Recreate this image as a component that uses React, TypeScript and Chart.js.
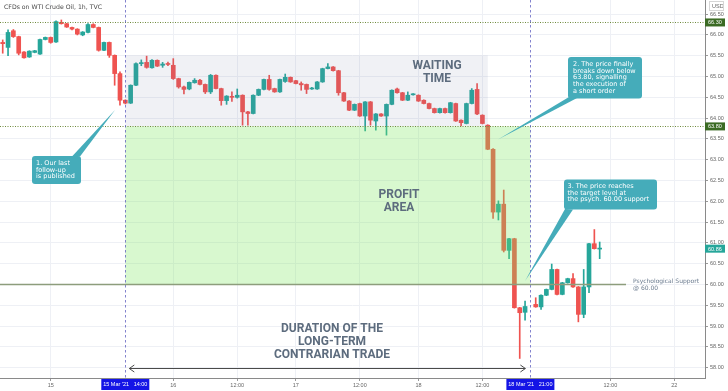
import React, { useEffect, useRef } from 'react';
import { Chart, registerables } from 'chart.js';

Chart.register(...registerables);

// ---- data ----
// bar slots (hourly bars, 0 = 15 Mar 00:00, day sessions of 23 bars)
const barSlots = [
  -9, -8, -7, -6, -5, -4, -3, -2, -1, 0, 1, 2, 3, 4, 5, 6, 7, 8, 9, 10,
  11, 12, 13, 14, 15, 16, 17, 18, 19, 20, 21, 22, 23, 24, 25, 26, 27, 28, 29, 30,
  31, 32, 33, 34, 35, 36, 37, 38, 39, 40, 41, 42, 43, 44, 45, 46, 47, 48, 49, 50,
  51, 52, 53, 54, 55, 56, 57, 58, 59, 60, 61, 62, 63, 64, 65, 66, 67, 68, 69, 70,
  71, 72, 73, 74, 75, 76, 77, 78, 79, 80, 81, 82, 83, 84, 85, 86, 87, 88, 89,
  91, 92, 93, 94, 95, 96, 97, 98, 99, 100, 101, 102, 103,
];
const opens = [
  65.82, 65.70, 66.10, 65.96, 65.59, 65.47, 65.58, 65.54, 65.89, 65.94, 65.83, 66.30, 66.27, 66.18, 66.14, 66.00, 66.06, 66.25, 66.18, 65.63,
  65.82, 65.51, 65.07, 64.43, 64.36, 64.79, 65.31, 65.34, 65.21, 65.39, 65.27, 65.31, 65.27, 64.95, 64.75, 64.70, 64.85, 64.91, 64.81, 64.63,
  65.03, 64.71, 64.42, 64.52, 64.50, 64.55, 64.15, 64.11, 64.55, 64.69, 64.93, 64.71, 64.63, 64.88, 64.98, 64.90, 64.83, 64.81, 64.70, 64.70,
  64.87, 65.19, 65.23, 65.14, 64.61, 64.41, 64.19, 64.35, 64.05, 64.39, 63.93, 64.10, 64.05, 64.33, 64.70, 64.61, 64.43, 64.56, 64.55, 64.43,
  64.35, 64.23, 64.13, 64.23, 64.13, 64.35, 63.95, 63.87, 64.35, 64.69, 64.07, 63.83, 63.25, 61.74, 61.93, 60.82, 61.10, 59.44, 59.33,
  59.52, 59.46, 59.74, 59.88, 60.36, 59.76, 60.04, 60.14, 59.94, 59.28, 59.94, 60.98, 60.85,
];
const highs = [
  65.88, 66.12, 66.13, 65.97, 65.60, 65.62, 65.63, 65.90, 65.95, 65.95, 66.34, 66.36, 66.28, 66.19, 66.15, 66.08, 66.27, 66.27, 66.19, 65.83,
  65.83, 65.52, 65.11, 64.44, 64.80, 65.33, 65.40, 65.49, 65.41, 65.40, 65.34, 65.35, 65.43, 64.96, 64.77, 64.87, 64.95, 64.93, 64.82, 65.05,
  65.04, 64.72, 64.54, 64.63, 64.70, 64.56, 64.16, 64.56, 64.70, 64.94, 65.03, 64.72, 64.94, 65.06, 64.99, 64.91, 64.87, 64.82, 64.74, 64.88,
  65.20, 65.31, 65.24, 65.15, 64.62, 64.42, 64.34, 64.36, 64.40, 64.40, 64.11, 64.11, 64.34, 64.68, 64.72, 64.62, 64.63, 64.59, 64.56, 64.44,
  64.36, 64.24, 64.24, 64.24, 64.38, 64.36, 63.96, 64.36, 64.71, 64.83, 64.08, 63.84, 63.27, 62.01, 62.27, 61.11, 61.11, 59.45, 59.60,
  59.68, 59.75, 59.89, 60.49, 60.37, 60.05, 60.15, 60.26, 59.95, 60.36, 60.99, 61.32, 61.02,
];
const lows = [
  65.56, 65.50, 65.94, 65.52, 65.44, 65.46, 65.57, 65.53, 65.88, 65.80, 65.82, 66.26, 66.18, 66.12, 66.00, 65.98, 66.05, 66.17, 65.61, 65.62,
  65.46, 64.79, 64.31, 64.34, 64.35, 64.78, 65.26, 65.20, 65.20, 65.24, 65.22, 65.26, 64.93, 64.72, 64.58, 64.68, 64.84, 64.80, 64.59, 64.59,
  64.70, 64.31, 64.33, 64.40, 64.48, 63.83, 63.83, 64.10, 64.54, 64.68, 64.67, 64.62, 64.62, 64.86, 64.86, 64.82, 64.67, 64.59, 64.69, 64.69,
  64.86, 65.18, 65.13, 64.55, 64.40, 64.18, 64.18, 64.04, 63.69, 63.83, 63.71, 64.04, 63.59, 64.32, 64.60, 64.42, 64.42, 64.55, 64.40, 64.34,
  64.22, 64.12, 64.12, 64.12, 64.12, 63.92, 63.81, 63.86, 64.34, 64.08, 63.86, 63.24, 61.59, 61.55, 60.78, 60.62, 59.43, 58.22, 59.14,
  59.45, 59.40, 59.73, 59.87, 59.75, 59.75, 60.03, 59.93, 59.10, 59.20, 59.80, 60.85, 60.62,
];
const closes = [
  65.79, 66.06, 65.96, 65.56, 65.45, 65.61, 65.62, 65.89, 65.94, 65.82, 66.32, 66.27, 66.19, 66.14, 66.02, 66.07, 66.25, 66.18, 65.63, 65.82,
  65.51, 65.07, 64.43, 64.36, 64.79, 65.31, 65.33, 65.22, 65.39, 65.25, 65.30, 65.29, 64.95, 64.75, 64.69, 64.86, 64.91, 64.81, 64.63, 65.03,
  64.71, 64.42, 64.53, 64.50, 64.55, 64.15, 64.11, 64.55, 64.69, 64.93, 64.69, 64.63, 64.93, 64.98, 64.87, 64.83, 64.80, 64.69, 64.71, 64.87,
  65.19, 65.23, 65.14, 64.61, 64.41, 64.19, 64.33, 64.05, 64.39, 63.95, 64.10, 64.05, 64.33, 64.67, 64.61, 64.43, 64.55, 64.57, 64.41, 64.35,
  64.23, 64.13, 64.23, 64.13, 64.37, 63.93, 63.89, 64.35, 64.67, 64.10, 63.87, 63.25, 61.74, 61.93, 60.82, 61.10, 59.44, 59.32, 59.47,
  59.46, 59.74, 59.88, 60.36, 59.76, 60.04, 60.14, 59.94, 59.28, 59.94, 60.98, 60.86, 60.86,
];

const yTickValues = [58, 58.5, 59, 59.5, 60, 60.5, 61, 61.5, 62, 62.5, 63, 63.5, 64, 64.5, 65, 65.5, 66, 66.5];
const xTickSlots = [0, 23, 35, 46, 58, 69, 81, 105, 117];
const xTickLabels = ['15', '16', '12:00', '17', '12:00', '18', '12:00', '12:00', '22'];
const markerSlots = [14, 90];
const markerLabels = ["15 Mar '21   14:00", "18 Mar '21   21:00"];
const levelPrices = [66.3, 63.8];
const supportPrice = 60.0;
const lastPrice = 60.86;
const waitingSlots = [14, 82];
const waitingPrices = [63.8, 65.51];
const profitSlots = [14, 90];
const profitPrices = [60.0, 63.8];

const BULL = '#26a69a';
const BEAR = '#ef5350';

function roundRect(ctx: CanvasRenderingContext2D, x: number, y: number, w: number, h: number, r: number) {
  ctx.beginPath();
  ctx.moveTo(x + r, y);
  ctx.lineTo(x + w - r, y);
  ctx.quadraticCurveTo(x + w, y, x + w, y + r);
  ctx.lineTo(x + w, y + h - r);
  ctx.quadraticCurveTo(x + w, y + h, x + w - r, y + h);
  ctx.lineTo(x + r, y + h);
  ctx.quadraticCurveTo(x, y + h, x, y + h - r);
  ctx.lineTo(x, y + r);
  ctx.quadraticCurveTo(x, y, x + r, y);
  ctx.closePath();
}

const overlayPlugin = {
  id: 'overlay',
  afterDatasetsDraw(chart: any) {
    const { ctx, chartArea: a, scales } = chart;
    const xs = scales.x;
    const ys = scales.y;
    const px = (s: number) => xs.getPixelForValue(s);
    const py = (v: number) => ys.getPixelForValue(v);

    ctx.save();
    ctx.beginPath();
    ctx.rect(a.left, a.top, a.right - a.left, a.bottom - a.top);
    ctx.clip();

    // zones (overlay candles)
    ctx.fillStyle = 'rgba(120,124,160,0.11)';
    ctx.fillRect(px(waitingSlots[0]), py(waitingPrices[1]), px(waitingSlots[1]) - px(waitingSlots[0]), py(waitingPrices[0]) - py(waitingPrices[1]));
    ctx.fillStyle = 'rgba(125,232,95,0.30)';
    ctx.fillRect(px(profitSlots[0]), py(profitPrices[1]), px(profitSlots[1]) - px(profitSlots[0]), py(profitPrices[0]) - py(profitPrices[1]));

    // dotted levels
    ctx.strokeStyle = '#6f8a3c';
    ctx.lineWidth = 1;
    ctx.setLineDash([1, 1.5]);
    levelPrices.forEach((p) => {
      const y = Math.round(py(p)) + 0.5;
      ctx.beginPath();
      ctx.moveTo(a.left, y);
      ctx.lineTo(a.right, y);
      ctx.stroke();
    });

    // vertical markers
    ctx.strokeStyle = 'rgba(90,90,190,0.75)';
    ctx.setLineDash([2.5, 2.5]);
    markerSlots.forEach((s) => {
      const x = Math.round(px(s)) + 0.5;
      ctx.beginPath();
      ctx.moveTo(x, a.top);
      ctx.lineTo(x, a.bottom);
      ctx.stroke();
    });
    ctx.setLineDash([]);

    // support line
    const sy = py(supportPrice);
    ctx.strokeStyle = '#8d9d7c';
    ctx.lineWidth = 1.5;
    ctx.beginPath();
    ctx.moveTo(a.left, sy);
    ctx.lineTo(626, sy);
    ctx.stroke();

    // big labels
    ctx.fillStyle = '#5d6c7e';
    ctx.font = 'bold 12px Roboto';
    ctx.textAlign = 'center';
    ctx.textBaseline = 'middle';
    ctx.fillText('WAITING', 437, 66);
    ctx.fillText('TIME', 437, 79);
    ctx.fillText('PROFIT', 399, 195);
    ctx.fillText('AREA', 399, 208);
    ctx.fillText('DURATION OF THE', 332, 329);
    ctx.fillText('LONG-TERM', 332, 342);
    ctx.fillText('CONTRARIAN TRADE', 332, 355);

    // double arrow
    const ay = 368.5;
    const ax1 = px(markerSlots[0]) + 4;
    const ax2 = px(markerSlots[1]) - 5;
    ctx.strokeStyle = '#4a4a4a';
    ctx.lineWidth = 1;
    ctx.beginPath();
    ctx.moveTo(ax1, ay);
    ctx.lineTo(ax2, ay);
    ctx.moveTo(ax1 + 5, ay - 3.5);
    ctx.lineTo(ax1, ay);
    ctx.lineTo(ax1 + 5, ay + 3.5);
    ctx.moveTo(ax2 - 5, ay - 3.5);
    ctx.lineTo(ax2, ay);
    ctx.lineTo(ax2 - 5, ay + 3.5);
    ctx.stroke();

    // callouts
    const callColor = '#45acba';
    const callouts = [
      { box: [32, 156, 49, 28], tail: [[72, 156.5], [80, 156.5], [115, 110]], x: 36, y: 163.5, lines: ['1. Our last', 'follow-up', 'is published'] },
      { box: [568, 57, 74, 41.5], tail: [[569, 97], [578, 97.5], [498, 139.5]], x: 573, y: 64.5, lines: ['2. The price finally', 'breaks down below', '63.80, signalling', 'the execution of', 'a short order'] },
      { box: [564, 179.5, 93, 30], tail: [[565, 209], [573, 209.5], [525, 281]], x: 567.5, y: 186.5, lines: ['3. The price reaches', 'the target level at', 'the psych. 60.00 support'] },
    ];
    ctx.font = '6.5px "DejaVu Sans"';
    ctx.textAlign = 'left';
    callouts.forEach((c) => {
      ctx.fillStyle = callColor;
      roundRect(ctx, c.box[0], c.box[1], c.box[2], c.box[3], 3);
      ctx.fill();
      ctx.beginPath();
      ctx.moveTo(c.tail[0][0], c.tail[0][1]);
      ctx.lineTo(c.tail[2][0], c.tail[2][1]);
      ctx.lineTo(c.tail[1][0], c.tail[1][1]);
      ctx.closePath();
      ctx.fill();
      ctx.fillStyle = '#ffffff';
      c.lines.forEach((t, i) => ctx.fillText(t, c.x, c.y + i * 6.6));
    });

    ctx.restore();

    ctx.save();
    ctx.textAlign = 'left';
    ctx.textBaseline = 'middle';

    // support label
    ctx.fillStyle = '#6a7a8e';
    ctx.font = '6px "DejaVu Sans"';
    ctx.fillText('Psychological Support', 633, sy - 2.5);
    ctx.fillText('@ 60.00', 633, sy + 4);

    // header text
    ctx.fillStyle = '#4a4a4a';
    ctx.font = '6.2px "DejaVu Sans"';
    ctx.fillText('CFDs on WTI Crude Oil, 1h, TVC', 4, 7);

    // USD
    ctx.fillStyle = '#666';
    ctx.font = '5.5px "Liberation Sans"';
    ctx.fillText('USD', 712, 6);
    ctx.strokeStyle = '#d6d6d6';
    ctx.lineWidth = 1;
    ctx.strokeRect(709.5, 1.5, 14, 9);

    // price boxes on the right axis
    ctx.font = '5.5px "Liberation Sans"';
    const boxes = [
      { p: levelPrices[0], c: '#3b6b24' },
      { p: levelPrices[1], c: '#3b6b24' },
      { p: lastPrice, c: BULL },
    ];
    boxes.forEach((b) => {
      const y = py(b.p);
      ctx.fillStyle = b.c;
      ctx.fillRect(a.right, y - 4, 20, 8);
      ctx.fillStyle = '#fff';
      ctx.fillText(b.p.toFixed(2), a.right + 3, y + 0.5);
    });

    // marker labels on x axis
    markerSlots.forEach((s, i) => {
      const x = px(s);
      ctx.fillStyle = '#1414e6';
      ctx.fillRect(x - 24, a.bottom + 1, 48, 11);
      ctx.fillStyle = '#fff';
      ctx.textAlign = 'center';
      ctx.fillText(markerLabels[i], x, a.bottom + 6.5);
    });
    ctx.restore();
  },
};

export default function App() {
  const ref = useRef<HTMLCanvasElement | null>(null);

  useEffect(() => {
    document.body.style.margin = '0';
    if (!ref.current) return;
    const colors = barSlots.map((_, i) => (closes[i] >= opens[i] ? BULL : BEAR));
    const bodies = barSlots.map((s, i) => ({ x: s, y: [Math.min(opens[i], closes[i]), Math.max(opens[i], closes[i])] }));
    const wicks = barSlots.map((s, i) => ({ x: s, y: [lows[i], highs[i]] }));

    const chart = new Chart(ref.current, {
      type: 'bar',
      data: {
        datasets: [
          {
            label: 'body',
            data: bodies as any,
            backgroundColor: colors,
            barThickness: 4,
            minBarLength: 1,
            grouped: false,
          } as any,
          {
            label: 'wick',
            data: wicks as any,
            backgroundColor: colors,
            barThickness: 1,
            minBarLength: 1,
            grouped: false,
          } as any,
        ],
      },
      options: {
        animation: false,
        responsive: false,
        devicePixelRatio: 1,
        layout: { padding: 0 },
        plugins: {
          legend: { display: false },
          tooltip: { enabled: false },
          title: { display: false },
        },
        scales: {
          x: {
            type: 'linear',
            min: -9.51,
            max: 122.76,
            offset: false,
            grid: { color: '#eef0f5', offset: false, tickLength: 3, tickColor: '#999' },
            border: { color: '#8a8a8a' },
            ticks: {
              autoSkip: false,
              maxRotation: 0,
              padding: 1,
              color: '#666',
              font: { family: 'Liberation Sans', size: 5.5 },
              callback: (_v: any, i: number) => xTickLabels[i],
            },
            afterBuildTicks: (s: any) => {
              s.ticks = xTickSlots.map((v) => ({ value: v }));
            },
            afterFit: (s: any) => {
              s.height = 13;
              s.paddingLeft = 0;
              s.paddingRight = 0;
            },
          },
          y: {
            type: 'linear',
            position: 'right',
            min: 57.75,
            max: 66.84,
            grid: { color: '#eef0f5', tickLength: 3, tickColor: '#999' },
            border: { color: '#8a8a8a' },
            ticks: {
              padding: 2,
              color: '#666',
              font: { family: 'Liberation Sans', size: 5.5 },
              callback: (v: any) => Number(v).toFixed(2),
            },
            afterBuildTicks: (s: any) => {
              s.ticks = yTickValues.map((v) => ({ value: v }));
            },
            afterFit: (s: any) => {
              s.width = 23;
              s.paddingTop = 0;
              s.paddingBottom = 0;
            },
          },
        },
      } as any,
      plugins: [overlayPlugin],
    });
    return () => chart.destroy();
  }, []);

  return (
    <div style={{ width: 728, height: 391 }}>
      <canvas ref={ref} width={728} height={391} style={{ display: 'block' }} />
    </div>
  );
}
